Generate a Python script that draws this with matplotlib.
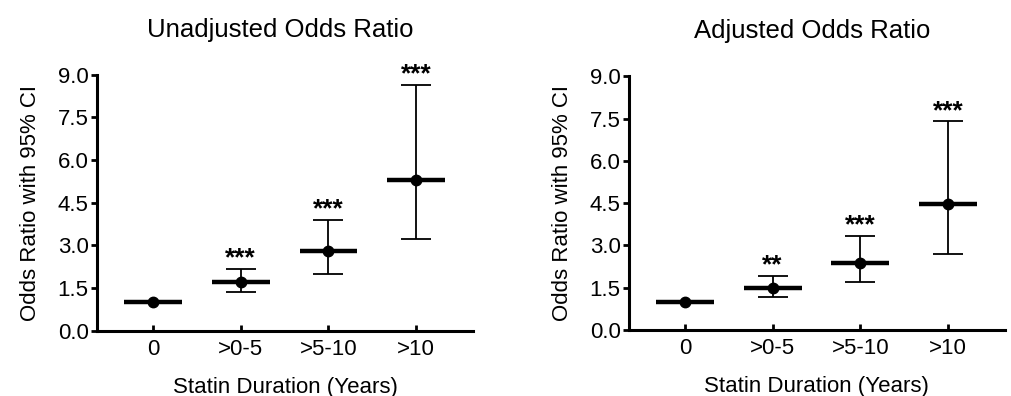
import numpy as np
import matplotlib
matplotlib.use("Agg")
import matplotlib.pyplot as plt

plt.rcParams['font.family'] = ['Liberation Sans', 'DejaVu Sans']

categories = ['0', '>0-5', '>5-10', '>10']

unadj_or = [1.0, 1.70, 2.80, 5.30]
unadj_lo = [1.0, 1.35, 2.00, 3.22]
unadj_hi = [1.0, 2.17, 3.90, 8.65]
unadj_stars = ['', '***', '***', '***']

adj_or = [1.0, 1.49, 2.37, 4.47]
adj_lo = [1.0, 1.16, 1.70, 2.70]
adj_hi = [1.0, 1.93, 3.35, 7.40]
adj_stars = ['', '**', '***', '***']

yticks = [0.0, 1.5, 3.0, 4.5, 6.0, 7.5, 9.0]


def panel(ax, title, orr, lo, hi, stars):
    x = np.arange(len(categories))
    orr = np.array(orr)
    lo = np.array(lo)
    hi = np.array(hi)
    has_ci = hi > lo
    ax.errorbar(x[has_ci], orr[has_ci],
                yerr=[orr[has_ci] - lo[has_ci], hi[has_ci] - orr[has_ci]],
                fmt='none', ecolor='black', elinewidth=1.3, capsize=10.5, capthick=1.3)
    ax.hlines(orr, x - 0.33, x + 0.33, colors='black', linewidth=3.2, zorder=3)
    ax.plot(x, orr, 'o', color='black', markersize=7.5, zorder=4)
    for xi, h, s in zip(x, hi, stars):
        if s:
            ax.annotate(s, (xi, h), xytext=(0, 2.5), textcoords='offset points',
                        ha='center', va='baseline', fontsize=19, fontweight='semibold')

    ax.set_xlim(-0.64, 3.65)
    ax.set_ylim(0, 9)
    ax.set_yticks(yticks)
    ax.set_yticklabels([f'{v:.1f}' for v in yticks])
    ax.set_xticks(x)
    ax.set_xticklabels(categories)
    ax.spines['top'].set_visible(False)
    ax.spines['right'].set_visible(False)
    ax.spines['left'].set_linewidth(2.2)
    ax.spines['bottom'].set_linewidth(2.2)
    ax.tick_params(axis='y', direction='out', length=4, width=2, labelsize=16, pad=2)
    ax.tick_params(axis='x', direction='in', length=4, width=2, labelsize=16, pad=6)
    ax.set_ylabel('Odds Ratio with 95% CI', fontsize=16, labelpad=12)
    ax.set_xlabel('Statin Duration (Years)', fontsize=16, labelpad=12)
    ax.set_title(title, fontsize=18.5, pad=27.5, x=0.487)


fig = plt.figure(figsize=(10.11, 3.96), dpi=100)
ax1 = fig.add_axes([0.096, 0.165, 0.372, 0.646])
ax2 = fig.add_axes([0.622, 0.167, 0.372, 0.640])

panel(ax1, 'Unadjusted Odds Ratio', unadj_or, unadj_lo, unadj_hi, unadj_stars)
panel(ax2, 'Adjusted Odds Ratio', adj_or, adj_lo, adj_hi, adj_stars)

fig.savefig('out.png', dpi=100)
